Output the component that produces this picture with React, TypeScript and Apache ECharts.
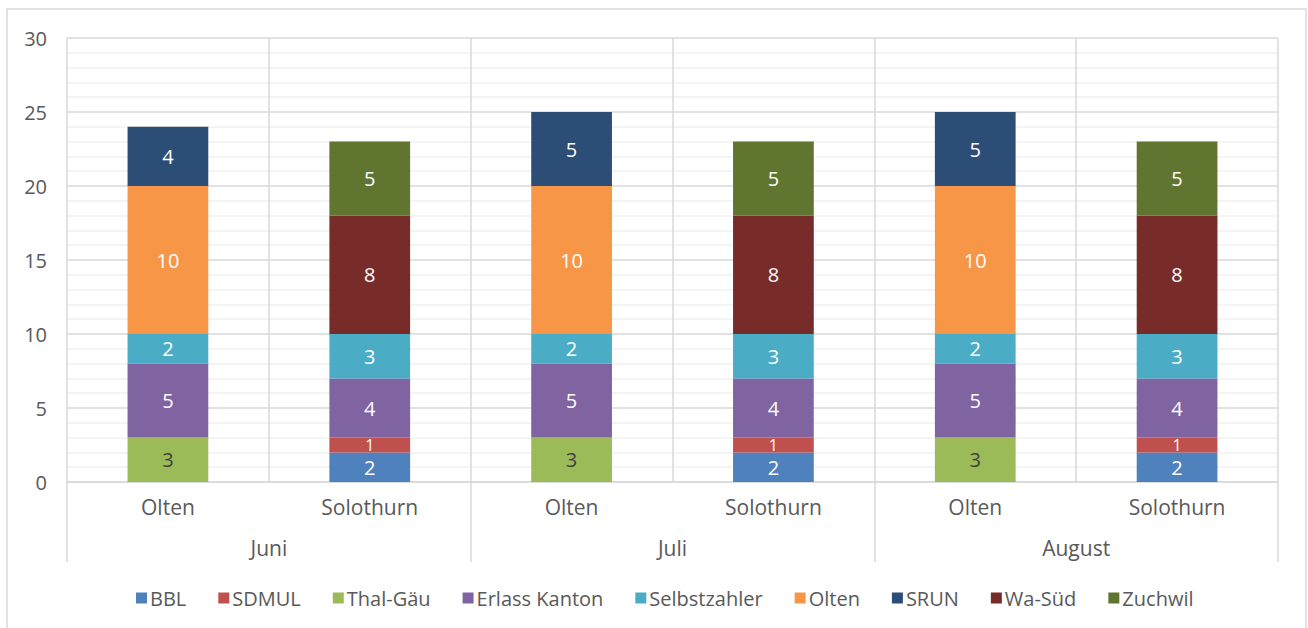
import React, { useEffect, useRef } from "react";
import * as echarts from "echarts";

const subCategories = ["Olten", "Solothurn", "Olten", "Solothurn", "Olten", "Solothurn"];
const months = ["Juni", "Juli", "August"];
const yTicks = [0, 5, 10, 15, 20, 25, 30];

const seriesNames = ["BBL", "SDMUL", "Thal-Gäu", "Erlass Kanton", "Selbstzahler", "Olten", "SRUN", "Wa-Süd", "Zuchwil"];
const colors = ["#4F81BD", "#C0504D", "#9BBB59", "#8064A2", "#4BACC6", "#F79646", "#2C4D75", "#772C2A", "#5F7530"];

const bbl = [null, 2, null, 2, null, 2];
const sdmul = [null, 1, null, 1, null, 1];
const thalGaeu = [3, null, 3, null, 3, null];
const erlassKanton = [5, 4, 5, 4, 5, 4];
const selbstzahler = [2, 3, 2, 3, 2, 3];
const olten = [10, null, 10, null, 10, null];
const srun = [4, null, 5, null, 5, null];
const waSued = [null, 8, null, 8, null, 8];
const zuchwil = [null, 5, null, 5, null, 5];

const seriesData = [bbl, sdmul, thalGaeu, erlassKanton, selbstzahler, olten, srun, waSued, zuchwil];
const labelColors = ["#ffffff", "#ffffff", "#404040", "#ffffff", "#ffffff", "#ffffff", "#ffffff", "#ffffff", "#ffffff"];
const labelSizes = [20, 16, 20, 20, 20, 20, 20, 20, 20];

const FONT = "Open Sans";
const TXT = "#595959";
const GRID = "#d9d9d9";

export default function App() {
  const ref = useRef<HTMLDivElement>(null);
  useEffect(() => {
    if (!ref.current) return;
    const chart = echarts.init(ref.current, null, { renderer: "svg" });
    chart.setOption({
      animation: false,
      backgroundColor: "#ffffff",
      textStyle: { fontFamily: FONT },
      graphic: [
        {
          type: "rect",
          shape: { x: 7, y: 9, width: 1299, height: 640 },
          style: { fill: "none", stroke: GRID, lineWidth: 1.5 },
          silent: true,
          z: -1,
        },
      ],
      grid: { left: 67, right: 30, top: 38, bottom: 146, containLabel: false },
      legend: {
        data: seriesNames,
        left: 131,
        top: 583,
        icon: "rect",
        itemWidth: 11,
        itemHeight: 11,
        itemGap: 32,
        textStyle: { fontSize: 20, color: TXT, fontFamily: FONT, padding: [0, 0, 0, -2] },
      },
      xAxis: [
        {
          type: "category",
          data: subCategories,
          position: "bottom",
          axisLine: { show: true, lineStyle: { color: GRID, width: 1.5 } },
          axisTick: { show: false },
          axisLabel: { color: TXT, fontSize: 21, margin: 14, fontFamily: FONT, interval: 0 },
          splitLine: { show: true, interval: 0, lineStyle: { color: GRID, width: 1.5 } },
        },
        {
          type: "category",
          data: months,
          position: "bottom",
          offset: 0,
          axisLine: { show: false },
          axisTick: { show: true, length: 80, interval: 0, lineStyle: { color: GRID, width: 1.5 } },
          axisLabel: { color: TXT, fontSize: 21, margin: 55, fontFamily: FONT, interval: 0 },
          splitLine: { show: false },
        },
      ],
      yAxis: {
        type: "value",
        min: yTicks[0],
        max: yTicks[yTicks.length - 1],
        interval: 5,
        axisLine: { show: false },
        axisTick: { show: false },
        axisLabel: { color: TXT, fontSize: 20, margin: 20, fontFamily: FONT },
        splitLine: { show: true, lineStyle: { color: GRID, width: 1.5 } },
        minorTick: { show: false, splitNumber: 5 },
        minorSplitLine: { show: true, lineStyle: { color: "#f0f0f0", width: 1.5 } },
      },
      series: seriesNames.map((name, i) => ({
        name,
        type: "bar",
        stack: "total",
        xAxisIndex: 0,
        barWidth: "40%",
        itemStyle: { color: colors[i] },
        label: {
          show: true,
          position: "inside",
          color: labelColors[i],
          fontSize: labelSizes[i],
          fontFamily: FONT,
        },
        data: seriesData[i],
      })),
    });
    return () => chart.dispose();
  }, []);
  return (
    <div
      ref={ref}
      style={{ position: "fixed", left: 0, top: 0, width: 1308, height: 628 }}
    />
  );
}
